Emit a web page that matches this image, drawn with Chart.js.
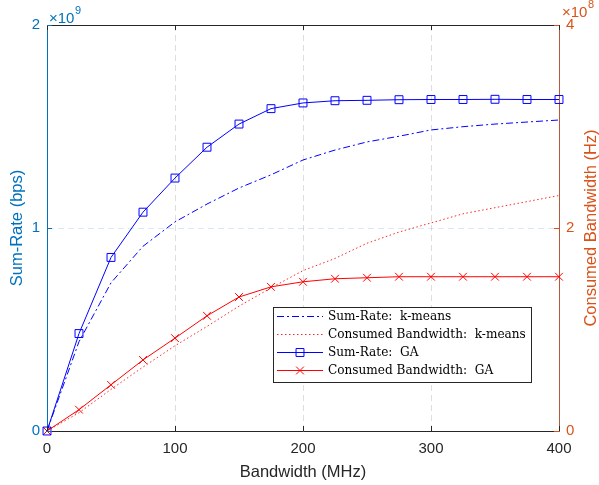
<!DOCTYPE html>
<html>
<head>
<meta charset="utf-8">
<script src="https://cdn.jsdelivr.net/npm/chart.js@4.4.1/dist/chart.umd.min.js"></script>
<style>
  html, body { margin: 0; padding: 0; background: #fff; }
  canvas { display: block; }
</style>
</head>
<body>
<canvas id="grafico" width="599" height="485"></canvas>
<script>
// bandwidth steps (MHz)
const bandwidth = [0, 25, 50, 75, 100, 125, 150, 175, 200, 225, 250, 275, 300, 325, 350, 375, 400]

// sum-rate, x10^9 bps
const sumRateKmeans = [0, 0.44, 0.73, 0.91, 1.03, 1.118, 1.197, 1.262, 1.335, 1.384, 1.424, 1.452, 1.483, 1.499, 1.512, 1.522, 1.532]
const sumRateGA = [0, 0.48, 0.855, 1.078, 1.246, 1.398, 1.512, 1.588, 1.616, 1.627, 1.629, 1.632, 1.633, 1.633, 1.634, 1.633, 1.633]

// consumed bandwidth, x10^8 Hz
const bwKmeans = [0, 0.18, 0.41, 0.63, 0.84, 1.03, 1.23, 1.41, 1.58, 1.70, 1.85, 1.96, 2.05, 2.14, 2.20, 2.26, 2.32]
const bwGA = [0, 0.21, 0.455, 0.70, 0.915, 1.135, 1.32, 1.42, 1.47, 1.50, 1.51, 1.52, 1.52, 1.52, 1.52, 1.52, 1.52]

const xTicks = [0, 100, 200, 300, 400]
const leftTicks = [0, 1, 2]
const rightTicks = [0, 2, 4]

const legendLabels = ['Sum-Rate:  k-means', 'Consumed Bandwidth:  k-means', 'Sum-Rate:  GA', 'Consumed Bandwidth:  GA']
const rightTitle = 'Consumed Bandwidth (Hz)'

const AZUL = '#0072BD'
const LARANJA = '#D95319'
const CINZA = '#262626'
const SANS = '"Liberation Sans", Arial, sans-serif'

const pares = ys => bandwidth.map((x, i) => ({ x, y: ys[i] }))

// ticks para dentro, borda de cima, expoentes, titulo da direita e legenda (estilo MATLAB)
const extras = {
    id: 'extras',
    afterDraw(chart) {
        const c = chart.ctx
        const a = chart.chartArea
        const sx = chart.scales.x, sy = chart.scales.y, sy1 = chart.scales.y1
        c.save()
        c.lineWidth = 1
        // borda superior
        c.strokeStyle = CINZA
        c.beginPath()
        c.moveTo(a.left, a.top + 0.5)
        c.lineTo(a.right, a.top + 0.5)
        c.stroke()
        // ticks no eixo x (baixo e cima)
        xTicks.forEach(v => {
            const px = Math.round(sx.getPixelForValue(v)) + 0.5
            c.beginPath()
            c.moveTo(px, a.bottom); c.lineTo(px, a.bottom - 5)
            c.moveTo(px, a.top); c.lineTo(px, a.top + 5)
            c.stroke()
        })
        c.strokeStyle = AZUL
        leftTicks.forEach(v => {
            const py = Math.round(sy.getPixelForValue(v)) + 0.5
            c.beginPath(); c.moveTo(a.left, py); c.lineTo(a.left + 5, py); c.stroke()
        })
        c.strokeStyle = LARANJA
        rightTicks.forEach(v => {
            const py = Math.round(sy1.getPixelForValue(v)) + 0.5
            c.beginPath(); c.moveTo(a.right, py); c.lineTo(a.right - 5, py); c.stroke()
        })

        // expoentes
        c.textBaseline = 'alphabetic'
        c.textAlign = 'left'
        const expoente = (x, y, base, pot, cor) => {
            c.fillStyle = cor
            c.font = '15px ' + SANS
            c.fillText(base, x, y)
            const w = c.measureText(base).width
            c.font = '11px ' + SANS
            c.fillText(pot, x + w + 0.5, y - 9)
        }
        expoente(a.left + 2, 23, '\u00d710', '9', AZUL)
        expoente(a.right + 3, 17, '\u00d710', '8', LARANJA)

        // titulo do eixo da direita, lido de baixo para cima
        c.save()
        c.translate(591, (a.top + a.bottom) / 2)
        c.rotate(-Math.PI / 2)
        c.textAlign = 'center'
        c.textBaseline = 'middle'
        c.fillStyle = LARANJA
        c.font = '16.5px ' + SANS
        c.fillText(rightTitle, 0, 0)
        c.restore()

        // legenda
        const box = { x: 273, y: 307, w: 258, h: 75 }
        c.fillStyle = '#fff'
        c.fillRect(box.x, box.y, box.w, box.h)
        c.strokeStyle = CINZA
        c.strokeRect(box.x + 0.5, box.y + 0.5, box.w, box.h)

        let fs = 12
        c.font = fs + 'px "DejaVu Serif", serif'
        fs = Math.max(10, Math.min(13, fs * 198 / c.measureText(legendLabels[1]).width))
        c.font = fs + 'px "DejaVu Serif", serif'

        const linhasY = [316.5, 334.5, 352.5, 370.5]
        chart.data.datasets.forEach((ds, i) => {
            const y = linhasY[i]
            c.save()
            c.strokeStyle = ds.borderColor
            c.lineWidth = ds.borderWidth
            c.setLineDash(ds.borderDash || [])
            c.beginPath(); c.moveTo(277, y); c.lineTo(323, y); c.stroke()
            c.restore()
            if (ds.pointRadius > 0) {
                const s = Math.SQRT1_2 * ds.pointRadius
                c.strokeStyle = ds.pointBorderColor
                c.lineWidth = ds.pointBorderWidth
                c.beginPath()
                if (ds.pointStyle === 'rect') {
                    c.rect(300 - s, y - s, 2 * s, 2 * s)
                } else {
                    c.moveTo(300 - s, y - s); c.lineTo(300 + s, y + s)
                    c.moveTo(300 - s, y + s); c.lineTo(300 + s, y - s)
                }
                c.stroke()
            }
            c.fillStyle = '#000'
            c.textBaseline = 'middle'
            c.fillText(legendLabels[i], 328, y + 0.5)
        })
        c.restore()
    }
}

new Chart(document.getElementById('grafico').getContext('2d'), {
    type: 'line',
    data: {
        datasets: [{
            label: legendLabels[0],
            data: pares(sumRateKmeans),
            yAxisID: 'y',
            borderColor: '#0000ff',
            borderWidth: 1,
            borderDash: [7, 3, 2, 3],
            pointRadius: 0
        }, {
            label: legendLabels[1],
            data: pares(bwKmeans),
            yAxisID: 'y1',
            borderColor: 'rgba(255,0,0,0.85)',
            borderWidth: 1,
            borderDash: [1.5, 2.5],
            pointRadius: 0
        }, {
            label: legendLabels[2],
            data: pares(sumRateGA),
            yAxisID: 'y',
            borderColor: '#0000ff',
            borderWidth: 1,
            pointStyle: 'rect',
            pointRadius: 5.6,
            pointBorderWidth: 1,
            pointBorderColor: '#0000ff',
            pointBackgroundColor: 'rgba(0,0,0,0)'
        }, {
            label: legendLabels[3],
            data: pares(bwGA),
            yAxisID: 'y1',
            borderColor: '#ff0000',
            borderWidth: 1,
            pointStyle: 'crossRot',
            pointRadius: 5.5,
            pointBorderWidth: 1,
            pointBorderColor: '#ff0000',
            pointBackgroundColor: '#ff0000'
        }]
    },
    options: {
        responsive: false,
        animation: false,
        clip: false,
        layout: { padding: { top: 25, left: 0, right: 0, bottom: 0 } },
        plugins: { legend: { display: false }, tooltip: { enabled: false } },
        elements: { line: { tension: 0 } },
        scales: {
            x: {
                type: 'linear',
                min: 0, max: 400,
                afterFit: s => { s.height = 54 },
                afterBuildTicks: s => { s.ticks = xTicks.map(v => ({ value: v })) },
                ticks: { color: CINZA, padding: 9, font: { size: 15, family: SANS }, maxRotation: 0 },
                grid: { color: '#dedede', drawTicks: false },
                border: { color: CINZA, dash: [6, 4] },
                title: {
                    display: true, text: 'Bandwidth (MHz)', color: CINZA,
                    font: { size: 16.5, family: SANS }, padding: { top: 0, bottom: 3 }
                }
            },
            y: {
                position: 'left',
                min: 0, max: 2,
                afterFit: s => { s.width = 47 },
                afterBuildTicks: s => { s.ticks = leftTicks.map(v => ({ value: v })) },
                ticks: { color: AZUL, padding: 7, font: { size: 15, family: SANS } },
                grid: { color: 'rgba(0,114,189,0.15)', drawTicks: false },
                border: { color: AZUL, dash: [6, 4] },
                title: {
                    display: true, text: 'Sum-Rate (bps)', color: AZUL,
                    font: { size: 16.5, family: SANS }, padding: { top: 7.5, bottom: 0 }
                }
            },
            y1: {
                position: 'right',
                min: 0, max: 4,
                afterFit: s => { s.width = 40 },
                afterBuildTicks: s => { s.ticks = rightTicks.map(v => ({ value: v })) },
                ticks: { color: LARANJA, padding: 7, font: { size: 15, family: SANS } },
                grid: { drawOnChartArea: false, drawTicks: false },
                border: { color: '#b8583a' }
            }
        }
    },
    plugins: [extras]
})
</script>
</body>
</html>
